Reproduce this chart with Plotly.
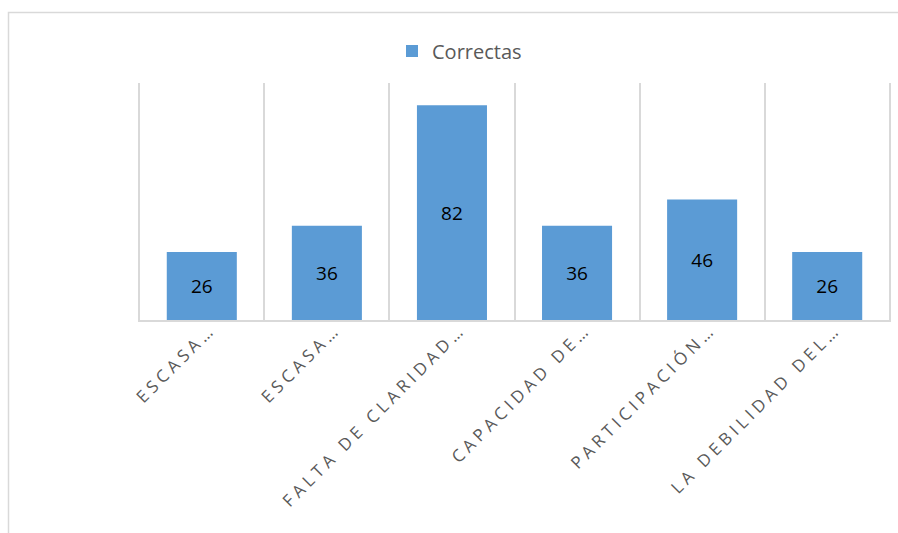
import plotly.graph_objects as go

categories = ["ESCASA…", "ESCASA…", "FALTA DE CLARIDAD…", "CAPACIDAD DE…", "PARTICIPACIÓN…", "LA DEBILIDAD DEL…"]
correctas = [26, 36, 82, 36, 46, 26]
series_name = "Correctas"

W, H = 898, 533
ml, mr, mt, mb = 138, 7, 83, 213
pw = W - ml - mr
ph = H - mt - mb

def px_x(p):
    return (p - ml) / pw

def px_y(p):
    return (H - mb - p) / ph

idx = list(range(len(categories)))

fig = go.Figure()
fig.add_trace(go.Bar(
    x=idx,
    y=correctas,
    name=series_name,
    marker=dict(color="#5B9BD5", line=dict(width=0)),
    text=[str(v) for v in correctas],
    textposition="inside",
    insidetextanchor="middle",
    textfont=dict(family="Open Sans", size=19, color="#000000"),
    textangle=0,
    hoverinfo="skip",
    showlegend=True,
))

fig.update_layout(
    width=W, height=H,
    margin=dict(l=ml, r=mr, t=mt, b=mb, pad=0),
    paper_bgcolor="white",
    plot_bgcolor="white",
    bargap=0.44,
    font=dict(family="Open Sans", color="#595959"),
    showlegend=True,
    legend=dict(
        orientation="h",
        x=px_x(392), xanchor="left",
        y=px_y(51), yanchor="middle",
        font=dict(family="Open Sans", size=20, color="#595959"),
        bgcolor="rgba(0,0,0,0)",
    ),
    xaxis=dict(
        type="category",
        tickmode="array",
        tickvals=idx,
        ticktext=categories,
        range=[-0.51, len(categories) - 0.49],
        tickangle=-45,
        tickfont=dict(family="Open Sans", size=17, color="#595959"),
        ticklabelshift=9,
        ticklabelstandoff=-9,
        showgrid=True,
        gridcolor="#d9d9d9",
        gridwidth=1.5,
        tickson="boundaries",
        ticks="",
        showline=True,
        linecolor="#d9d9d9",
        linewidth=1.5,
        zeroline=False,
        fixedrange=True,
    ),
    yaxis=dict(
        range=[0, 90.5],
        visible=False,
        showgrid=False,
        zeroline=False,
        fixedrange=True,
    ),
    shapes=[dict(
        type="rect", xref="paper", yref="paper",
        x0=px_x(8.5), x1=px_x(940), y0=px_y(600), y1=px_y(12.5),
        line=dict(color="#d9d9d9", width=1.5),
        fillcolor="rgba(0,0,0,0)",
        layer="below",
    )],
)

post = (
    "document.body.style.margin='0';"
    "document.querySelectorAll('.xtick text').forEach(function(t){t.style.letterSpacing='4.3px';});"
)
fig.write_html("out.html", post_script=post, config={"displayModeBar": False})
